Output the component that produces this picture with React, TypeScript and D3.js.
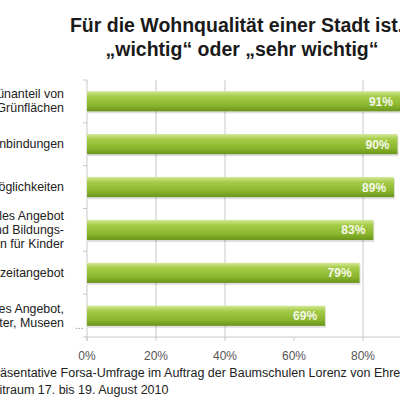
import React from 'react';
import * as d3 from 'd3';

// Survey results (percent "wichtig" or "sehr wichtig")
const categories = [
  ['Hoher Grünanteil von', 'Grünflächen'],
  ['Gute Verkehrsanbindungen'],
  ['Gute Einkaufsmöglichkeiten'],
  ['Soziales Angebot', 'an Betreuungs- und Bildungs-', 'einrichtungen für Kinder'],
  ['Gutes Freizeitangebot'],
  ['Kulturelles Angebot,', 'wie Theater, Museen'],
];
const values = [91, 90, 89, 83, 79, 69];
const xTicks = [0, 20, 40, 60, 80, 100];
const gridValues = [20, 40, 80, 100];
const titleLines = ['Für die Wohnqualität einer Stadt ist...', '„wichtig“ oder „sehr wichtig“'];
const footerLines = [
  'Repräsentative Forsa-Umfrage im Auftrag der Baumschulen Lorenz von Ehren',
  'Zeitraum 17. bis 19. August 2010',
];

const W = 400;
const H = 400;
const plot = { left: 87, right: 432, top: 80, bottom: 337 };
const font = '"Liberation Sans", Arial, sans-serif';

export default function App() {
  const x = d3.scaleLinear().domain([0, 100]).range([plot.left, plot.right]);
  const y = d3
    .scaleBand<number>()
    .domain(d3.range(values.length))
    .range([plot.top, plot.bottom])
    .paddingInner(0.53)
    .paddingOuter(0.26);
  const bandEdges = d3
    .range(values.length + 1)
    .map((i) => plot.top + (i * (plot.bottom - plot.top)) / values.length);

  return (
    <svg
      width={W}
      height={H}
      style={{ position: 'absolute', left: 0, top: 0, background: '#fff' }}
      fontFamily={font}
    >
      <defs>
        <linearGradient id="barGrad" x1="0" y1="0" x2="0" y2="1">
          <stop offset="0%" stopColor="#d4e89a" />
          <stop offset="25%" stopColor="#a6cc48" />
          <stop offset="70%" stopColor="#8ab62e" />
          <stop offset="100%" stopColor="#6a941c" />
        </linearGradient>
      </defs>

      {/* title */}
      {titleLines.map((t, i) => (
        <text
          key={i}
          x={242}
          y={32 + i * 24}
          textAnchor="middle"
          fontSize={19.5}
          fontWeight="bold"
          fill="#1a1a1a"
        >
          {t}
        </text>
      ))}

      {/* grid */}
      {gridValues.map((v) => (
        <line key={v} x1={x(v)} x2={x(v)} y1={plot.top} y2={plot.bottom} stroke="#c8c8c8" strokeWidth={1} />
      ))}

      {/* left axis */}
      <line x1={plot.left} x2={plot.left} y1={plot.top} y2={plot.bottom + 4} stroke="#c8c8c8" />
      {bandEdges.map((e, i) => (
        <line key={i} x1={plot.left - 4} x2={plot.left} y1={e} y2={e} stroke="#c8c8c8" />
      ))}

      {/* bottom axis */}
      <line x1={plot.left} x2={W} y1={plot.bottom} y2={plot.bottom} stroke="#c8c8c8" />
      {xTicks.map((v) => (
        <g key={v}>
          <line x1={x(v)} x2={x(v)} y1={plot.bottom} y2={plot.bottom + 4} stroke="#c8c8c8" />
          <text x={x(v)} y={360} textAnchor="middle" fontSize={12} fill="#555">
            {v}%
          </text>
        </g>
      ))}

      {/* bars */}
      {values.map((v, i) => {
        const by = y(i) as number;
        const bh = y.bandwidth();
        const bx = x(0);
        const bw = x(v) - x(0);
        return (
          <g key={i}>
            <rect x={bx + 1} y={by + 2} width={bw} height={bh} fill="#000" opacity={0.12} />
            <rect x={bx} y={by} width={bw} height={bh} fill="url(#barGrad)" />
            <text
              x={x(v) - 8}
              y={by + bh / 2 + 4.5}
              textAnchor="end"
              fontSize={12}
              fontWeight="bold"
              fill="#f4f8e8"
            >
              {v}%
            </text>
          </g>
        );
      })}

      {/* category labels */}
      {categories.map((lines, i) => {
        const cy = (y(i) as number) + y.bandwidth() / 2;
        const lh = 14;
        const y0 = cy - ((lines.length - 1) * lh) / 2 + 4;
        return (
          <text key={i} textAnchor="end" fontSize={12.4} fill="#222">
            {lines.map((l, j) => (
              <tspan key={j} x={64} y={y0 + j * lh}>
                {l}
              </tspan>
            ))}
          </text>
        );
      })}
      <text x={75} y={329} fontSize={10} fill="#888">
        ...
      </text>

      {/* footer */}
      <text x={-27} y={377} fontSize={12.5} fill="#222">
        {footerLines[0]}
      </text>
      <text x={-15} y={394} fontSize={12.5} fill="#222">
        {footerLines[1]}
      </text>
    </svg>
  );
}
